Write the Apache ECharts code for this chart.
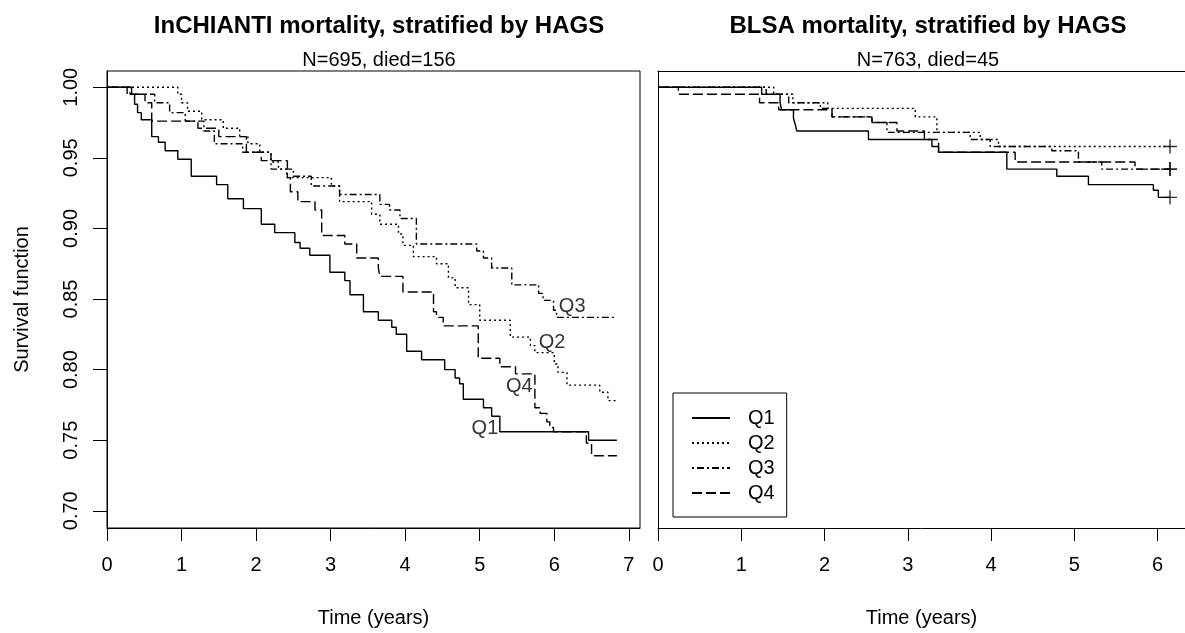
<!DOCTYPE html>
<html>
<head>
<meta charset="utf-8">
<title>HAGS mortality</title>
<script src="https://cdn.jsdelivr.net/npm/echarts@6/dist/echarts.min.js"></script>
<style>
  html, body { margin: 0; padding: 0; background: #fff; }
  #chart { width: 1185px; height: 633px; }
</style>
</head>
<body>
<div id="chart"></div>
<script>
// InCHIANTI (left panel): step times (years) and survival after each step
const inQ1Time = [0, 0.33, 0.37, 0.41, 0.46, 0.60, 0.69, 0.78, 0.95, 1.13, 1.47, 1.62, 1.83, 2.07, 2.25, 2.52, 2.59, 2.72, 2.99, 3.19, 3.26, 3.44, 3.64, 3.82, 3.88, 4.02, 4.22, 4.53, 4.67, 4.73, 4.78, 5.05, 5.16, 5.27, 6.46, 6.84];
const inQ1Surv = [1, 0.995, 0.988, 0.982, 0.977, 0.965, 0.961, 0.955, 0.949, 0.937, 0.931, 0.921, 0.914, 0.903, 0.897, 0.890, 0.886, 0.881, 0.869, 0.863, 0.853, 0.841, 0.835, 0.830, 0.825, 0.813, 0.807, 0.800, 0.794, 0.790, 0.779, 0.773, 0.767, 0.756, 0.750, 0.750];
const inQ2Time = [0, 0.95, 1.00, 1.08, 1.27, 1.56, 1.78, 1.89, 2.05, 2.20, 2.30, 2.41, 3.01, 3.12, 3.55, 3.66, 3.91, 3.97, 4.11, 4.42, 4.58, 4.67, 4.85, 5.00, 5.41, 5.68, 5.74, 6.00, 6.05, 6.17, 6.61, 6.72, 6.84];
const inQ2Surv = [1, 0.995, 0.989, 0.983, 0.977, 0.971, 0.965, 0.960, 0.954, 0.947, 0.942, 0.936, 0.930, 0.919, 0.910, 0.903, 0.896, 0.888, 0.880, 0.875, 0.865, 0.858, 0.846, 0.835, 0.823, 0.817, 0.812, 0.804, 0.798, 0.789, 0.784, 0.778, 0.778];
const inQ3Time = [0, 0.27, 0.64, 0.84, 1.05, 1.30, 1.44, 1.82, 2.20, 2.50, 2.74, 3.12, 3.66, 3.79, 3.93, 4.15, 4.96, 5.05, 5.16, 5.43, 5.79, 5.85, 5.99, 6.03, 6.84];
const inQ3Surv = [1, 0.995, 0.989, 0.982, 0.976, 0.969, 0.960, 0.954, 0.942, 0.937, 0.930, 0.924, 0.917, 0.913, 0.907, 0.889, 0.884, 0.879, 0.872, 0.860, 0.854, 0.849, 0.842, 0.837, 0.837];
const inQ4Time = [0, 0.31, 0.51, 0.60, 1.22, 1.50, 1.87, 2.07, 2.42, 2.46, 2.56, 2.79, 2.88, 3.19, 3.35, 3.64, 3.66, 3.97, 4.38, 4.42, 4.51, 4.98, 5.27, 5.48, 5.74, 5.81, 5.90, 5.94, 5.99, 6.43, 6.50, 6.84];
const inQ4Surv = [1, 0.995, 0.989, 0.976, 0.971, 0.965, 0.954, 0.948, 0.936, 0.926, 0.919, 0.913, 0.895, 0.889, 0.879, 0.872, 0.866, 0.855, 0.841, 0.837, 0.831, 0.808, 0.802, 0.797, 0.773, 0.769, 0.763, 0.759, 0.756, 0.748, 0.739, 0.739];

// BLSA (right panel)
const blQ1Time = [0, 1.245, 1.466, 1.486, 1.627, 1.647, 1.667, 2.528, 3.29, 3.37, 4.19, 4.79, 5.17, 5.95, 6.01, 6.15];
const blQ1Surv = [1, 0.995, 0.989, 0.984, 0.978, 0.974, 0.969, 0.963, 0.958, 0.954, 0.942, 0.937, 0.931, 0.927, 0.922, 0.922];
const blQ2Time = [0, 1.39, 1.62, 2.04, 3.09, 3.35, 3.87, 4.09, 6.15];
const blQ2Surv = [1, 0.995, 0.989, 0.985, 0.979, 0.968, 0.963, 0.958, 0.958];
const blQ3Time = [0, 1.30, 1.57, 1.95, 2.09, 2.57, 2.75, 3.75, 3.99, 4.73, 5.05, 5.33, 6.15];
const blQ3Surv = [1, 0.995, 0.989, 0.985, 0.979, 0.975, 0.968, 0.963, 0.958, 0.955, 0.947, 0.942, 0.942];
const blQ4Time = [0, 0.245, 1.22, 1.45, 2.09, 2.57, 2.87, 3.20, 3.37, 4.29, 5.73, 6.15];
const blQ4Surv = [1, 0.995, 0.989, 0.984, 0.979, 0.975, 0.969, 0.963, 0.954, 0.947, 0.942, 0.942];

const groups = ["Q1", "Q2", "Q3", "Q4"];
// curve labels in the left panel (time, survival)
const curveLabelTime = [5.07, 5.97, 6.24, 5.53];
const curveLabelSurv = [0.758, 0.819, 0.845, 0.788];

const leftXTicks = [0, 1, 2, 3, 4, 5, 6, 7];
const rightXTicks = [0, 1, 2, 3, 4, 5, 6];
const yTicks = [0.70, 0.75, 0.80, 0.85, 0.90, 0.95, 1.00];

const FONT = "'Liberation Sans', Arial, sans-serif";
// solid, dotted, dot-dash, long dash
const dashes = ["solid", [2, 3], [2, 3, 7, 3], [10, 4]];
const PLUS = "path://M9,0h2v9h9v2h-9v9h-2v-9h-9v-2h9z";

const leftSets = [[inQ1Time, inQ1Surv], [inQ2Time, inQ2Surv], [inQ3Time, inQ3Surv], [inQ4Time, inQ4Surv]];
const rightSets = [[blQ1Time, blQ1Surv], [blQ2Time, blQ2Surv], [blQ3Time, blQ3Surv], [blQ4Time, blQ4Surv]];

function pairs(t, s) {
  return t.map((v, i) => [v, s[i]]);
}

function getSeries() {
  const out = [];
  [leftSets, rightSets].forEach((sets, panel) => {
    sets.forEach(([t, s], i) => {
      out.push({
        name: groups[i],
        type: "line",
        xAxisIndex: panel,
        yAxisIndex: panel,
        step: "end",
        symbol: "none",
        data: pairs(t, s),
        lineStyle: { color: "#000", width: 1.4, type: dashes[i] },
        itemStyle: { color: "#000" },
        z: 3,
      });
    });
  });
  // censoring marks at the end of the BLSA curves
  out.push({
    type: "scatter",
    xAxisIndex: 1,
    yAxisIndex: 1,
    symbol: PLUS,
    symbolSize: 14,
    itemStyle: { color: "#000" },
    data: rightSets.map(([t, s]) => [t[t.length - 1], s[s.length - 1]]),
    z: 4,
  });
  // group labels drawn on the InCHIANTI curves
  out.push({
    type: "scatter",
    xAxisIndex: 0,
    yAxisIndex: 0,
    symbolSize: 1,
    itemStyle: { color: "rgba(0,0,0,0)" },
    label: {
      show: true,
      position: "inside",
      formatter: (p) => p.name,
      fontSize: 20,
      fontFamily: FONT,
      color: "#000",
    },
    data: groups.map((g, i) => ({ name: g, value: [curveLabelTime[i], curveLabelSurv[i]] })),
    z: 5,
  });
  return out;
}

function xAxisOf(grid, max, ticks) {
  return {
    gridIndex: grid,
    type: "value",
    min: 0,
    max: max,
    name: "Time (years)",
    nameLocation: "middle",
    nameGap: 80,
    nameTextStyle: { fontSize: 20, color: "#000", fontFamily: FONT },
    axisLine: { onZero: false, lineStyle: { color: "#000", width: 1 } },
    axisTick: { length: 13, customValues: ticks, lineStyle: { color: "#000", width: 1 } },
    axisLabel: { customValues: ticks, fontSize: 20, color: "#000", fontFamily: FONT, margin: 27 },
    splitLine: { show: false },
  };
}

const chart = echarts.init(document.getElementById("chart"));

const option = {
  animation: false,
  backgroundColor: "#fff",
  textStyle: { fontFamily: FONT },
  title: [
    { text: "InCHIANTI mortality, stratified by HAGS", left: 374, top: 9, textAlign: "center",
      textStyle: { fontSize: 24, fontWeight: "bold", color: "#000", fontFamily: FONT } },
    { text: "N=695, died=156", left: 374, top: 45, textAlign: "center",
      textStyle: { fontSize: 20, fontWeight: "normal", color: "#000", fontFamily: FONT } },
    { text: "BLSA mortality, stratified by HAGS", left: 923, top: 9, textAlign: "center",
      textStyle: { fontSize: 24, fontWeight: "bold", color: "#000", fontFamily: FONT } },
    { text: "N=763, died=45", left: 923, top: 45, textAlign: "center",
      textStyle: { fontSize: 20, fontWeight: "normal", color: "#000", fontFamily: FONT } },
  ],
  legend: {
    data: groups,
    orient: "vertical",
    left: 673,
    top: 393,
    itemWidth: 38,
    itemHeight: 14,
    itemGap: 5,
    padding: [15, 12, 14, 18],
    borderColor: "#000",
    borderWidth: 1,
    selectedMode: false,
    itemStyle: { opacity: 0 },
    textStyle: { fontSize: 20, color: "#000", fontFamily: FONT, padding: [0, 0, 0, 13] },
  },
  grid: [
    { left: 107, top: 71, right: 545, bottom: 101, show: true, borderColor: "#000", borderWidth: 1 },
    // right panel runs off the canvas edge, so no box: axis lines draw left, bottom and top
    { left: 658, top: 71, right: 0, bottom: 101, show: false },
  ],
  xAxis: [
    xAxisOf(0, 7.15, leftXTicks),
    xAxisOf(1, 6.33, rightXTicks),
    {
      gridIndex: 1,
      type: "value",
      position: "top",
      min: 0,
      max: 6.33,
      axisLine: { onZero: false, lineStyle: { color: "#000", width: 1 } },
      axisTick: { show: false },
      axisLabel: { show: false },
      splitLine: { show: false },
    },
  ],
  yAxis: [
    {
      gridIndex: 0,
      type: "value",
      min: 0.6878,
      max: 1.0115,
      name: "Survival function",
      nameLocation: "middle",
      nameGap: 75,
      nameTextStyle: { fontSize: 20, color: "#000", fontFamily: FONT },
      axisLine: { show: true, lineStyle: { color: "#000", width: 1 } },
      axisTick: { show: true, length: 14, customValues: yTicks, lineStyle: { color: "#000", width: 1 } },
      axisLabel: {
        customValues: yTicks,
        rotate: 90,
        margin: 26,
        fontSize: 20,
        color: "#000",
        fontFamily: FONT,
        formatter: (v) => v.toFixed(2),
      },
      splitLine: { show: false },
    },
    {
      gridIndex: 1,
      type: "value",
      min: 0.6878,
      max: 1.0115,
      axisLine: { show: true, onZero: false, lineStyle: { color: "#000", width: 1 } },
      axisTick: { show: false },
      axisLabel: { show: false },
      splitLine: { show: false },
    },
  ],
  series: getSeries(),
};

chart.setOption(option);
</script>
</body>
</html>
